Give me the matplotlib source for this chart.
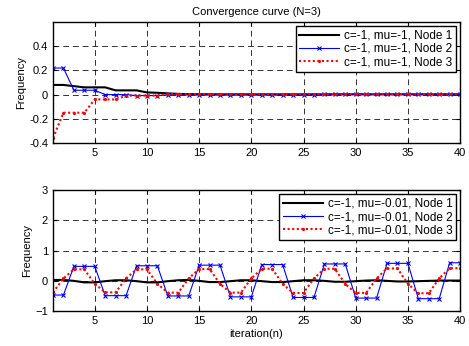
import numpy as np
import matplotlib
matplotlib.use('Agg')
import matplotlib.pyplot as plt

plt.rcParams['font.family'] = ['Liberation Sans', 'DejaVu Sans']
plt.rcParams['font.size'] = 8

# iterations
n = np.arange(1, 41)

# top panel: c=-1, mu=-1
top_node1 = [0.08, 0.08, 0.07, 0.06, 0.06, 0.06, 0.035, 0.035, 0.035, 0.018,
             0.015, 0.01, 0.006, 0.004, 0.003, 0.003, 0.002, 0.002, 0.002, 0.002,
             0.002, 0.002, 0.002, 0.002, 0.002, 0.002, 0.002, 0.002, 0.002, 0.002,
             0.002, 0.002, 0.002, 0.002, 0.002, 0.002, 0.002, 0.002, 0.002, 0.002]
top_node2 = [0.22, 0.22, 0.036, 0.036, 0.036, 0.0, 0.0, 0.0, -0.008, -0.008,
             -0.008, -0.003, -0.003, -0.003, -0.003, -0.003, -0.003, -0.003, -0.003, -0.003,
             -0.003, -0.003, -0.003, -0.003, -0.003, -0.003, 0.003, 0.003, 0.003, 0.003,
             0.003, 0.003, 0.003, 0.003, 0.003, 0.003, 0.003, 0.003, 0.003, 0.003]
top_node3 = [-0.36, -0.15, -0.15, -0.15, -0.04, -0.04, -0.04, -0.008, -0.008, -0.008,
             -0.008, 0.004, 0.004, 0.004, 0.004, 0.004, 0.004, 0.004, 0.004, 0.004,
             0.004, 0.004, 0.004, 0.004, 0.004, 0.004, 0.004, 0.004, 0.004, 0.004,
             0.004, 0.004, 0.004, 0.004, 0.004, 0.004, 0.004, 0.004, 0.004, 0.004]

# bottom panel: c=-1, mu=-0.01
bot_node1 = [0.03, 0.03, 0.0, -0.05, -0.05, -0.01, 0.02, 0.02, -0.01, -0.05,
             -0.05, -0.01, 0.02, 0.03, 0.0, -0.04, -0.04, -0.01, 0.02, 0.02,
             -0.01, -0.04, -0.04, -0.01, 0.02, 0.02, 0.0, -0.03, -0.03, -0.01,
             0.01, 0.02, 0.0, -0.02, -0.02, -0.01, 0.0, 0.01, 0.01, 0.01]
bot_node2 = [-0.47, -0.47, 0.48, 0.48, 0.48, -0.49, -0.49, -0.49, 0.5, 0.5,
             0.5, -0.5, -0.5, -0.5, 0.52, 0.52, 0.52, -0.53, -0.53, -0.53,
             0.54, 0.54, 0.54, -0.55, -0.55, -0.55, 0.56, 0.56, 0.56, -0.57,
             -0.57, -0.57, 0.58, 0.58, 0.58, -0.59, -0.59, -0.59, 0.6, 0.6]
bot_node3 = [-0.38, 0.08, 0.38, 0.38, -0.1, -0.38, -0.38, 0.08, 0.38, 0.38,
             -0.1, -0.39, -0.39, 0.08, 0.39, 0.39, -0.1, -0.39, -0.39, 0.08,
             0.4, 0.4, -0.1, -0.4, -0.4, 0.08, 0.4, 0.4, -0.1, -0.4,
             -0.4, 0.08, 0.41, 0.41, -0.1, -0.41, -0.41, 0.08, 0.42, 0.42]

labels_top = ['c=-1, mu=-1, Node 1', 'c=-1, mu=-1, Node 2', 'c=-1, mu=-1, Node 3']
labels_bot = ['c=-1, mu=-0.01, Node 1', 'c=-1, mu=-0.01, Node 2', 'c=-1, mu=-0.01, Node 3']

fig = plt.figure(figsize=(4.69, 3.46), dpi=100)
ax1 = fig.add_axes([0.113, 0.587, 0.868, 0.349])
ax2 = fig.add_axes([0.113, 0.101, 0.868, 0.349])


def draw(ax, y1, y2, y3, labels):
    ax.plot(n, y1, color='black', lw=1.5, label=labels[0])
    ax.plot(n, y2, color='blue', lw=0.8, marker='x', ms=3.5, mew=0.8, label=labels[1])
    ax.plot(n, y3, color='red', lw=1.5, ls=(0, (1, 1.2)), marker='.', ms=2.5, label=labels[2])
    ax.set_xlim(1, 40)
    ax.set_xticks([5, 10, 15, 20, 25, 30, 35, 40])
    ax.grid(True, color='black', ls=(0, (6, 4)), lw=0.7, alpha=0.8)
    ax.tick_params(direction='in', top=True, right=True, length=3, labelsize=8)
    for s in ax.spines.values():
        s.set_linewidth(1.0)
    ax.set_ylabel('Frequency', fontsize=8, labelpad=2)
    leg = ax.legend(loc='upper right', numpoints=1, handlelength=3.4, fancybox=False,
                    edgecolor='black', framealpha=1, fontsize=8.5, borderpad=0.3,
                    labelspacing=0.1, handletextpad=0.4, borderaxespad=0.35)
    leg.get_frame().set_linewidth(1.0)


draw(ax1, top_node1, top_node2, top_node3, labels_top)
ax1.set_ylim(-0.4, 0.6)
ax1.set_yticks([-0.4, -0.2, 0, 0.2, 0.4])
ax1.set_yticklabels(['-0.4', '-0.2', '0', '0.2', '0.4'])
ax1.set_title('Convergence curve (N=3)', fontsize=8, pad=5)

draw(ax2, bot_node1, bot_node2, bot_node3, labels_bot)
ax2.set_ylim(-1, 3)
ax2.set_yticks([-1, 0, 1, 2, 3])
ax2.set_xlabel('iteration(n)', fontsize=8, labelpad=2)

fig.savefig('out.png', dpi=100)
